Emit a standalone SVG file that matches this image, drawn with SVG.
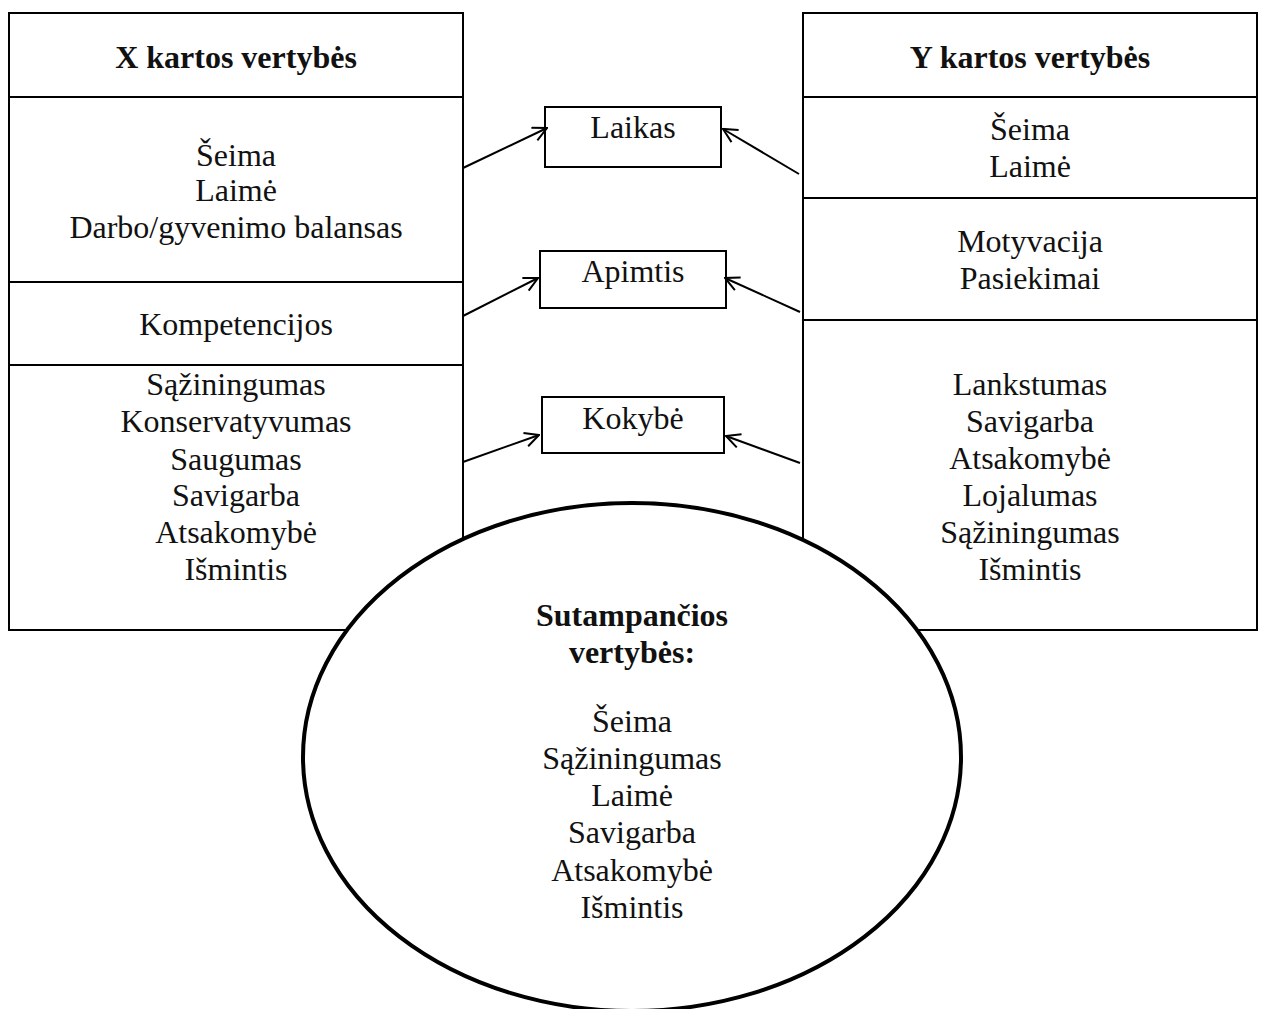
<svg xmlns="http://www.w3.org/2000/svg" width="1262" height="1009" viewBox="0 0 1262 1009">
<style>
text{font-family:"Liberation Serif","Times New Roman",serif;font-size:32px;fill:#111;text-anchor:middle}
.b{font-weight:bold}
.box{fill:#fff;stroke:#000;stroke-width:2}
.ln{stroke:#000;stroke-width:2;fill:none}
.ar{stroke:#000;stroke-width:2;fill:none;marker-end:url(#ah)}
</style>
<defs>
<marker id="ah" viewBox="0 0 16 16" refX="15" refY="8" markerWidth="16" markerHeight="16" markerUnits="userSpaceOnUse" orient="auto">
<path d="M1,1 L15,8 L1,15" fill="none" stroke="#000" stroke-width="2"/>
</marker>
</defs>
<g id="x-box">
<rect class="box" x="9" y="13" width="454" height="617"/>
<line class="ln" x1="9" y1="97" x2="463" y2="97"/>
<line class="ln" x1="9" y1="282" x2="463" y2="282"/>
<line class="ln" x1="9" y1="365" x2="463" y2="365"/>
<text class="b" x="236" y="68">X kartos vertybės</text>
<text x="236" y="166">Šeima</text>
<text x="236" y="201">Laimė</text>
<text x="236" y="238">Darbo/gyvenimo balansas</text>
<text x="236" y="335">Kompetencijos</text>
<text x="236" y="395">Sąžiningumas</text>
<text x="236" y="432">Konservatyvumas</text>
<text x="236" y="470">Saugumas</text>
<text x="236" y="506">Savigarba</text>
<text x="236" y="543">Atsakomybė</text>
<text x="236" y="580">Išmintis</text>
</g>
<g id="y-box">
<rect class="box" x="803" y="13" width="454" height="617"/>
<line class="ln" x1="803" y1="97" x2="1257" y2="97"/>
<line class="ln" x1="803" y1="198" x2="1257" y2="198"/>
<line class="ln" x1="803" y1="320" x2="1257" y2="320"/>
<text class="b" x="1030" y="68">Y kartos vertybės</text>
<text x="1030" y="140">Šeima</text>
<text x="1030" y="177">Laimė</text>
<text x="1030" y="252">Motyvacija</text>
<text x="1030" y="289">Pasiekimai</text>
<text x="1030" y="395">Lankstumas</text>
<text x="1030" y="432">Savigarba</text>
<text x="1030" y="469">Atsakomybė</text>
<text x="1030" y="506">Lojalumas</text>
<text x="1030" y="543">Sąžiningumas</text>
<text x="1030" y="580">Išmintis</text>
</g>
<g id="laikas">
<rect class="box" x="545" y="107" width="176" height="60"/>
<text x="633" y="138">Laikas</text>
</g>
<g id="apimtis">
<rect class="box" x="540" y="251" width="186" height="57"/>
<text x="633" y="282">Apimtis</text>
</g>
<g id="kokybe">
<rect class="box" x="542" y="397" width="182" height="56"/>
<text x="633" y="429">Kokybė</text>
</g>
<g id="connectors">
<line class="ar" x1="463" y1="168" x2="547" y2="128"/>
<line class="ar" x1="799" y1="174" x2="723" y2="129"/>
<line class="ar" x1="463" y1="316" x2="538" y2="278"/>
<line class="ar" x1="800" y1="312" x2="725" y2="278"/>
<line class="ar" x1="463" y1="462" x2="539" y2="435"/>
<line class="ar" x1="800" y1="463" x2="726" y2="436"/>
</g>
<g id="overlap">
<ellipse cx="632" cy="757" rx="329" ry="254" fill="#fff" stroke="#000" stroke-width="4"/>
<text class="b" x="632" y="626">Sutampančios</text>
<text class="b" x="632" y="663">vertybės:</text>
<text x="632" y="732">Šeima</text>
<text x="632" y="769">Sąžiningumas</text>
<text x="632" y="806">Laimė</text>
<text x="632" y="843">Savigarba</text>
<text x="632" y="881">Atsakomybė</text>
<text x="632" y="918">Išmintis</text>
</g>
</svg>
